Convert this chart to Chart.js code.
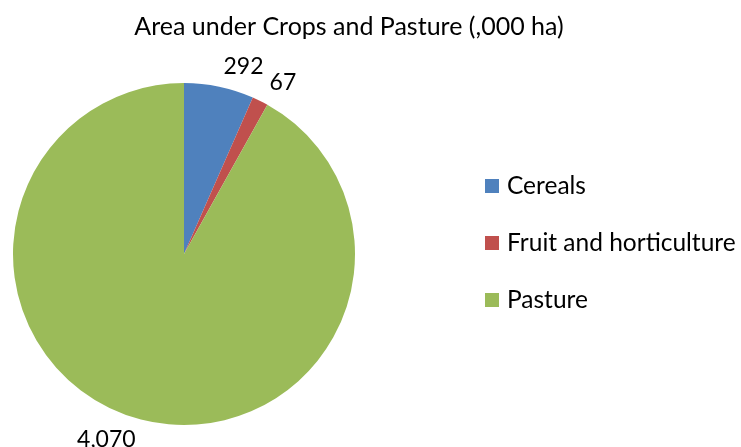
<!DOCTYPE html>
<html>
<head>
<meta charset="utf-8">
<script src="https://cdn.jsdelivr.net/npm/chart.js@4"></script>
<style>
  html, body { margin: 0; padding: 0; background: #fff; }
  #wrap { width: 741px; height: 447px; }
</style>
</head>
<body>
<div id="wrap"><canvas id="cropChart" width="741" height="447"></canvas></div>
<script>
// ==== Data ====
const categories = ['Cereals', 'Fruit and horticulture', 'Pasture'];
const areaValues = [292, 67, 4070];
const sliceColors = ['#4F81BD', '#C0504D', '#9BBB59'];
const chartTitle = 'Area under Crops and Pasture (,000 ha)';

const fontFamily = 'Lato, "Open Sans", sans-serif';

// ==== Title, outside labels and legend drawn by hand (Excel look) ====
const excelLook = {
    id: 'excelLook',
    afterDraw(chart) {
        const ctx = chart.ctx;
        ctx.save();
        ctx.fillStyle = '#000';

        // title
        ctx.font = '25px ' + fontFamily;
        ctx.textAlign = 'center';
        ctx.textBaseline = 'middle';
        ctx.fillText(chartTitle, 349, 27);

        // data labels outside the slices
        ctx.font = '23px ' + fontFamily;
        ctx.textBaseline = 'middle';
        const meta = chart.getDatasetMeta(0);
        meta.data.forEach((arc, i) => {
            const mid = (arc.startAngle + arc.endAngle) / 2;
            const r = arc.outerRadius + 21;
            const x = arc.x + Math.cos(mid) * r;
            const y = arc.y + Math.sin(mid) * r;
            ctx.textAlign = Math.cos(mid) >= 0 ? 'left' : 'right';
            ctx.fillText(areaValues[i].toLocaleString('en-US'), x, y);
        });

        // legend
        ctx.font = '24.5px ' + fontFamily;
        ctx.textAlign = 'left';
        ctx.textBaseline = 'middle';
        categories.forEach((label, i) => {
            const cy = 186 + i * 57;
            ctx.fillStyle = sliceColors[i];
            ctx.fillRect(485, cy - 7, 14, 14);
            ctx.fillStyle = '#000';
            ctx.fillText(label, 507, cy);
        });
        ctx.restore();
    }
};

new Chart(document.getElementById('cropChart').getContext('2d'), {
    type: 'pie',
    data: {
        labels: categories,
        datasets: [{
            data: areaValues,
            backgroundColor: sliceColors,
            borderWidth: 0
        }]
    },
    options: {
        responsive: false,
        animation: false,
        layout: { padding: { left: 13, top: 83, right: 386, bottom: 22 } },
        plugins: {
            legend: { display: false },
            tooltip: { enabled: false },
            title: { display: false }
        }
    },
    plugins: [excelLook]
});
</script>
</body>
</html>
